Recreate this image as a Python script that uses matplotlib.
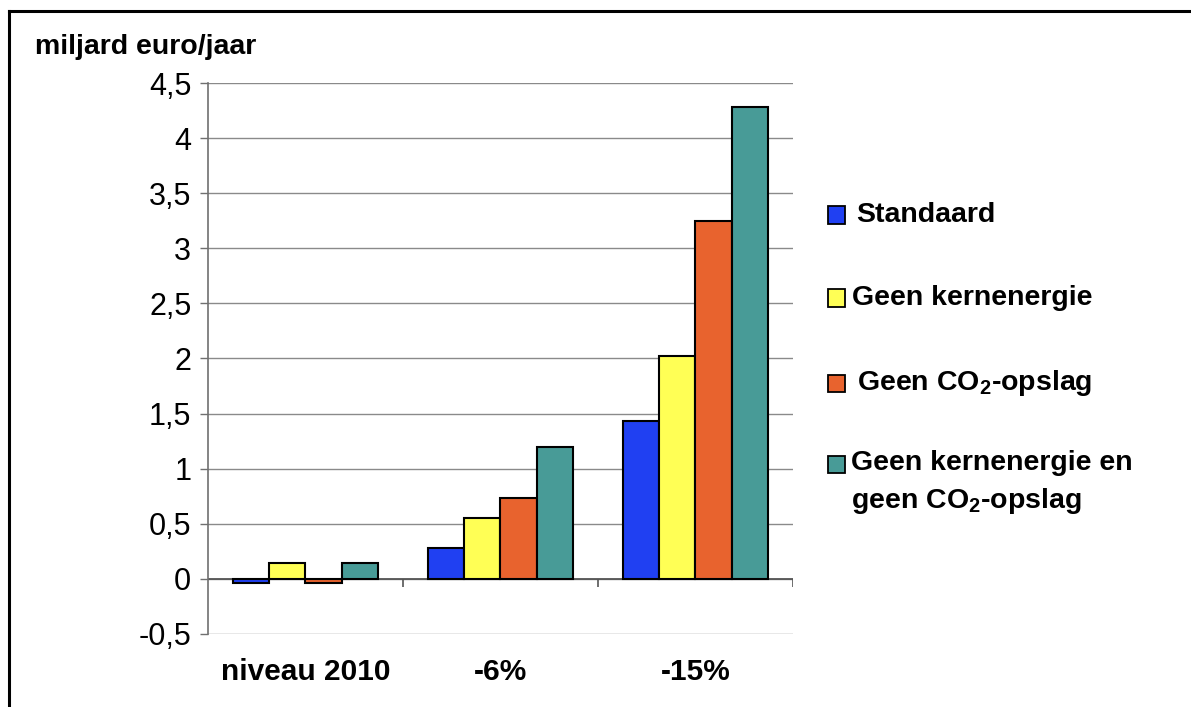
import matplotlib
matplotlib.use("Agg")
import matplotlib.pyplot as plt
from matplotlib.patches import Rectangle
from matplotlib.lines import Line2D
import numpy as np

plt.rcParams['font.family'] = ['Liberation Sans', 'DejaVu Sans']
plt.rcParams['mathtext.fontset'] = 'custom'
plt.rcParams['mathtext.rm'] = 'Liberation Sans:bold'
plt.rcParams['mathtext.default'] = 'rm'

categories = ['niveau 2010', '-6%', '-15%']
series_names = ['Standaard', 'Geen kernenergie', 'Geen CO$_2$-opslag',
                'Geen kernenergie en\ngeen CO$_2$-opslag']
standaard = [-0.04, 0.28, 1.43]
geen_kern = [0.14, 0.55, 2.02]
geen_co2 = [-0.04, 0.73, 3.25]
geen_beide = [0.14, 1.20, 4.28]
y_ticks = [-0.5, 0, 0.5, 1, 1.5, 2, 2.5, 3, 3.5, 4, 4.5]
y_tick_labels = ['-0,5', '0', '0,5', '1', '1,5', '2', '2,5', '3', '3,5', '4', '4,5']

colors = ['#2040F2', '#FFFF55', '#E8632E', '#489B97']
series = [standaard, geen_kern, geen_co2, geen_beide]

fig = plt.figure(figsize=(11.91, 7.07), dpi=100)
ax = fig.add_axes([0.1746, 0.1033, 0.4912, 0.7793])

x = np.arange(len(categories))
bw = 0.185
for i, (vals, c) in enumerate(zip(series, colors)):
    ax.bar(x + (i - 1.5) * bw, vals, width=bw, color=c, edgecolor='black',
           linewidth=1.5, zorder=3)

ax.set_xlim(-0.5, 2.5)
ax.set_ylim(-0.5, 4.5)
ax.set_yticks(y_ticks)
ax.set_yticklabels(y_tick_labels, fontsize=22)
ax.grid(axis='y', color='#8a8a8a', linewidth=1.0, zorder=0)
ax.set_axisbelow(True)
ax.set_xticks(x)
ax.set_xticklabels(categories, fontsize=21.5, fontweight='bold')
ax.tick_params(axis='x', length=0, pad=17)
ax.tick_params(axis='y', length=6, color='#707070', width=1, pad=6)
for s in ['top', 'right', 'bottom']:
    ax.spines[s].set_visible(False)
ax.spines['left'].set_color('#707070')
ax.spines['left'].set_linewidth(1.2)

# category axis at zero with separators
ax.axhline(0, color='#555555', linewidth=1.3, zorder=2)
ax.vlines([0.5, 1.5, 2.5], -0.07, 0, color='#555555', linewidth=1.2, zorder=2)

W, H = 1191, 707

# vertical-axis caption
fig.text(35 / W, 1 - 47 / H, 'miljard euro/jaar', fontsize=20.5,
         fontweight='bold', ha='left', va='center')

# legend
leg_rows = [215, 298, 383, 464]
text_rows = [215, 298, 383, 483]
text_x = [856, 852, 857, 851]
for name, c, yc, yt, xt in zip(series_names, colors, leg_rows, text_rows, text_x):
    sq = 17
    fig.add_artist(Rectangle((828 / W, 1 - (yc + sq / 2) / H), sq / W, sq / H,
                             facecolor=c, edgecolor='black', linewidth=1.3,
                             transform=fig.transFigure))
    fig.text(xt / W, 1 - yt / H, name, fontsize=20.5, fontweight='bold',
             ha='left', va='center', linespacing=1.42)

# outer frame
fig.add_artist(Line2D([9 / W, 1], [1 - 11 / H, 1 - 11 / H], color='black',
                      linewidth=2.2, transform=fig.transFigure))
fig.add_artist(Line2D([9 / W, 9 / W], [0, 1 - 11 / H], color='black',
                      linewidth=2.2, transform=fig.transFigure))

fig.savefig('out.png', dpi=100)
